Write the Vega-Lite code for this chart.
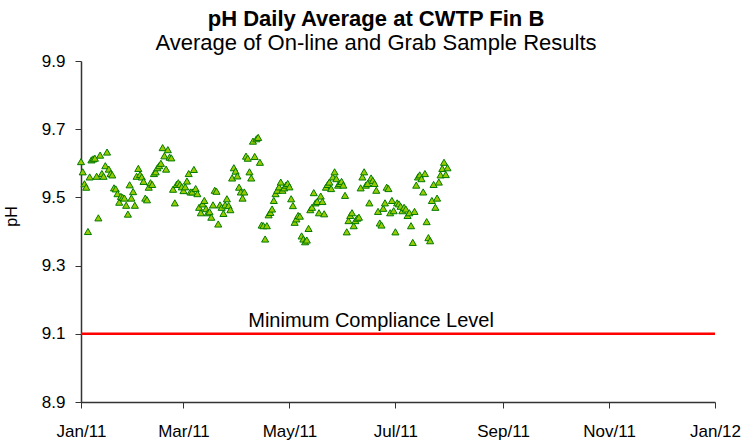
{
  "$schema": "https://vega.github.io/schema/vega-lite/v6.json",
  "autosize": "none",
  "width": 634,
  "height": 341,
  "padding": {"left": 81, "top": 61, "right": 36, "bottom": 38},
  "background": "white",
  "config": {
    "view": {"stroke": null},
    "font": "Liberation Sans",
    "axis": {"labelFont": "Liberation Sans", "titleFont": "Liberation Sans", "labelColor": "#000", "titleColor": "#000", "domainColor": "#333", "tickColor": "#333", "grid": false}
  },
  "title": {
    "text": "pH Daily Average at CWTP Fin B",
    "subtitle": "Average of On-line and Grab Sample Results",
    "anchor": "middle",
    "dx": -22,
    "offset": 0,
    "dy": 3,
    "fontSize": 22,
    "fontWeight": "bold",
    "font": "Liberation Sans",
    "subtitleFont": "Liberation Sans",
    "subtitleFontSize": 22,
    "subtitleColor": "#000",
    "color": "#000",
    "subtitlePadding": 2
  },
  "layer": [
    {
      "data": {"values": [
        {"date":"2011-01-01","pH":9.605},{"date":"2011-01-02","pH":9.575},{"date":"2011-01-03","pH":9.54},{"date":"2011-01-04","pH":9.53},{"date":"2011-01-05","pH":9.40},{"date":"2011-01-06","pH":9.56},{"date":"2011-01-07","pH":9.61},{"date":"2011-01-08","pH":9.613},{"date":"2011-01-09","pH":9.615},{"date":"2011-01-10","pH":9.562},{"date":"2011-01-11","pH":9.44},{"date":"2011-01-12","pH":9.624},{"date":"2011-01-13","pH":9.57},{"date":"2011-01-14","pH":9.562},{"date":"2011-01-15","pH":9.593},{"date":"2011-01-16","pH":9.633},{"date":"2011-01-17","pH":9.583},{"date":"2011-01-18","pH":9.57},{"date":"2011-01-19","pH":9.566},{"date":"2011-01-20","pH":9.528},{"date":"2011-01-21","pH":9.525},{"date":"2011-01-22","pH":9.511},{"date":"2011-01-23","pH":9.486},{"date":"2011-01-24","pH":9.503},{"date":"2011-01-25","pH":9.50},{"date":"2011-01-26","pH":9.498},{"date":"2011-01-27","pH":9.477},{"date":"2011-01-28","pH":9.451},{"date":"2011-01-29","pH":9.537},{"date":"2011-01-30","pH":9.498},{"date":"2011-01-31","pH":9.517},
        {"date":"2011-02-01","pH":9.477},{"date":"2011-02-02","pH":9.562},{"date":"2011-02-03","pH":9.585},{"date":"2011-02-04","pH":9.567},{"date":"2011-02-05","pH":9.56},{"date":"2011-02-06","pH":9.547},{"date":"2011-02-07","pH":9.498},{"date":"2011-02-08","pH":9.493},{"date":"2011-02-09","pH":9.53},{"date":"2011-02-10","pH":9.543},{"date":"2011-02-11","pH":9.538},{"date":"2011-02-12","pH":9.57},{"date":"2011-02-13","pH":9.575},{"date":"2011-02-14","pH":9.587},{"date":"2011-02-15","pH":9.593},{"date":"2011-02-16","pH":9.60},{"date":"2011-02-17","pH":9.646},{"date":"2011-02-18","pH":9.622},{"date":"2011-02-19","pH":9.583},{"date":"2011-02-20","pH":9.64},{"date":"2011-02-21","pH":9.618},{"date":"2011-02-22","pH":9.616},{"date":"2011-02-23","pH":9.524},{"date":"2011-02-24","pH":9.484},{"date":"2011-02-25","pH":9.538},{"date":"2011-02-26","pH":9.543},{"date":"2011-02-27","pH":9.538},{"date":"2011-02-28","pH":9.531},
        {"date":"2011-03-01","pH":9.52},{"date":"2011-03-02","pH":9.531},{"date":"2011-03-03","pH":9.548},{"date":"2011-03-04","pH":9.57},{"date":"2011-03-05","pH":9.516},{"date":"2011-03-06","pH":9.516},{"date":"2011-03-07","pH":9.582},{"date":"2011-03-08","pH":9.526},{"date":"2011-03-09","pH":9.511},{"date":"2011-03-10","pH":9.471},{"date":"2011-03-11","pH":9.455},{"date":"2011-03-12","pH":9.481},{"date":"2011-03-13","pH":9.491},{"date":"2011-03-14","pH":9.467},{"date":"2011-03-15","pH":9.455},{"date":"2011-03-16","pH":9.458},{"date":"2011-03-17","pH":9.442},{"date":"2011-03-18","pH":9.478},{"date":"2011-03-19","pH":9.521},{"date":"2011-03-20","pH":9.518},{"date":"2011-03-21","pH":9.422},{"date":"2011-03-22","pH":9.478},{"date":"2011-03-23","pH":9.471},{"date":"2011-03-24","pH":9.453},{"date":"2011-03-25","pH":9.478},{"date":"2011-03-26","pH":9.496},{"date":"2011-03-27","pH":9.476},{"date":"2011-03-28","pH":9.464},{"date":"2011-03-29","pH":9.557},{"date":"2011-03-30","pH":9.587},{"date":"2011-03-31","pH":9.577},
        {"date":"2011-04-01","pH":9.563},{"date":"2011-04-02","pH":9.53},{"date":"2011-04-03","pH":9.516},{"date":"2011-04-04","pH":9.498},{"date":"2011-04-05","pH":9.516},{"date":"2011-04-06","pH":9.621},{"date":"2011-04-07","pH":9.615},{"date":"2011-04-08","pH":9.575},{"date":"2011-04-09","pH":9.557},{"date":"2011-04-10","pH":9.665},{"date":"2011-04-11","pH":9.62},{"date":"2011-04-12","pH":9.672},{"date":"2011-04-13","pH":9.676},{"date":"2011-04-14","pH":9.603},{"date":"2011-04-15","pH":9.419},{"date":"2011-04-16","pH":9.417},{"date":"2011-04-17","pH":9.378},{"date":"2011-04-18","pH":9.417},{"date":"2011-04-19","pH":9.449},{"date":"2011-04-20","pH":9.456},{"date":"2011-04-21","pH":9.466},{"date":"2011-04-22","pH":9.491},{"date":"2011-04-23","pH":9.511},{"date":"2011-04-24","pH":9.521},{"date":"2011-04-25","pH":9.531},{"date":"2011-04-26","pH":9.545},{"date":"2011-04-27","pH":9.521},{"date":"2011-04-28","pH":9.528},{"date":"2011-04-29","pH":9.536},{"date":"2011-04-30","pH":9.541},
        {"date":"2011-05-01","pH":9.531},{"date":"2011-05-02","pH":9.496},{"date":"2011-05-03","pH":9.476},{"date":"2011-05-04","pH":9.427},{"date":"2011-05-05","pH":9.437},{"date":"2011-05-06","pH":9.447},{"date":"2011-05-07","pH":9.445},{"date":"2011-05-08","pH":9.387},{"date":"2011-05-09","pH":9.378},{"date":"2011-05-10","pH":9.37},{"date":"2011-05-11","pH":9.375},{"date":"2011-05-12","pH":9.409},{"date":"2011-05-13","pH":9.464},{"date":"2011-05-14","pH":9.471},{"date":"2011-05-15","pH":9.514},{"date":"2011-05-16","pH":9.484},{"date":"2011-05-17","pH":9.488},{"date":"2011-05-18","pH":9.455},{"date":"2011-05-19","pH":9.504},{"date":"2011-05-20","pH":9.488},{"date":"2011-05-21","pH":9.452},{"date":"2011-05-22","pH":9.53},{"date":"2011-05-23","pH":9.538},{"date":"2011-05-24","pH":9.545},{"date":"2011-05-25","pH":9.526},{"date":"2011-05-26","pH":9.56},{"date":"2011-05-27","pH":9.575},{"date":"2011-05-28","pH":9.555},{"date":"2011-05-29","pH":9.536},{"date":"2011-05-30","pH":9.541},{"date":"2011-05-31","pH":9.547},
        {"date":"2011-06-01","pH":9.536},{"date":"2011-06-02","pH":9.506},{"date":"2011-06-03","pH":9.399},{"date":"2011-06-04","pH":9.432},{"date":"2011-06-05","pH":9.447},{"date":"2011-06-06","pH":9.455},{"date":"2011-06-07","pH":9.417},{"date":"2011-06-08","pH":9.432},{"date":"2011-06-09","pH":9.439},{"date":"2011-06-10","pH":9.442},{"date":"2011-06-11","pH":9.528},{"date":"2011-06-12","pH":9.56},{"date":"2011-06-13","pH":9.575},{"date":"2011-06-14","pH":9.536},{"date":"2011-06-15","pH":9.541},{"date":"2011-06-16","pH":9.484},{"date":"2011-06-17","pH":9.557},{"date":"2011-06-18","pH":9.55},{"date":"2011-06-19","pH":9.541},{"date":"2011-06-20","pH":9.521},{"date":"2011-06-21","pH":9.459},{"date":"2011-06-22","pH":9.425},{"date":"2011-06-23","pH":9.419},{"date":"2011-06-24","pH":9.468},{"date":"2011-06-25","pH":9.484},{"date":"2011-06-26","pH":9.53},{"date":"2011-06-27","pH":9.526},{"date":"2011-06-28","pH":9.455},{"date":"2011-06-29","pH":9.491},{"date":"2011-06-30","pH":9.461},
        {"date":"2011-07-01","pH":9.399},{"date":"2011-07-02","pH":9.484},{"date":"2011-07-03","pH":9.481},{"date":"2011-07-04","pH":9.474},{"date":"2011-07-05","pH":9.461},{"date":"2011-07-06","pH":9.471},{"date":"2011-07-07","pH":9.466},{"date":"2011-07-08","pH":9.447},{"date":"2011-07-09","pH":9.455},{"date":"2011-07-10","pH":9.417},{"date":"2011-07-11","pH":9.368},{"date":"2011-07-12","pH":9.459},{"date":"2011-07-13","pH":9.536},{"date":"2011-07-14","pH":9.56},{"date":"2011-07-15","pH":9.566},{"date":"2011-07-16","pH":9.555},{"date":"2011-07-17","pH":9.516},{"date":"2011-07-18","pH":9.57},{"date":"2011-07-19","pH":9.429},{"date":"2011-07-20","pH":9.382},{"date":"2011-07-21","pH":9.373},{"date":"2011-07-22","pH":9.491},{"date":"2011-07-23","pH":9.538},{"date":"2011-07-24","pH":9.471},{"date":"2011-07-25","pH":9.498},{"date":"2011-07-26","pH":9.545},{"date":"2011-07-27","pH":9.566},{"date":"2011-07-28","pH":9.585},{"date":"2011-07-29","pH":9.603},{"date":"2011-07-30","pH":9.567},{"date":"2011-07-31","pH":9.587}
      ]},
      "mark": {"type": "point", "shape": "triangle-up", "size": 50, "filled": true, "fill": "#99CC00", "stroke": "#007A00", "strokeWidth": 1, "opacity": 1},
      "encoding": {
        "x": {
          "field": "date", "type": "temporal",
          "scale": {"type": "utc", "domain": [{"year": 2011, "month": 1, "date": 1, "utc": true}, {"year": 2012, "month": 1, "date": 1, "utc": true}]},
          "axis": {
            "title": null,
            "labelExpr": "utcFormat(datum.value, '%b/%y')",
            "values": [
              {"year": 2011, "month": 1, "date": 1, "utc": true},
              {"year": 2011, "month": 3, "date": 1, "utc": true},
              {"year": 2011, "month": 5, "date": 1, "utc": true},
              {"year": 2011, "month": 7, "date": 1, "utc": true},
              {"year": 2011, "month": 9, "date": 1, "utc": true},
              {"year": 2011, "month": 11, "date": 1, "utc": true},
              {"year": 2012, "month": 1, "date": 1, "utc": true}
            ],
            "labelFontSize": 17, "tickSize": 6, "labelPadding": 15, "labelFlush": false, "labelOverlap": false, "domainWidth": 1.5
          }
        },
        "y": {
          "field": "pH", "type": "quantitative",
          "scale": {"domain": [8.9, 9.9], "nice": false, "zero": false},
          "axis": {
            "title": "pH", "titleFontSize": 16, "titleFontWeight": "normal", "titlePadding": 22, "titleY": 155,
            "values": [8.9, 9.1, 9.3, 9.5, 9.7, 9.9], "format": ".1f",
            "labelFontSize": 17, "tickSize": 6, "labelPadding": 10, "domainWidth": 1.5
          }
        }
      }
    },
    {
      "data": {"values": [{"pH": 9.1}]},
      "mark": {"type": "rule", "color": "#FF0000", "strokeWidth": 2.5},
      "encoding": {"y": {"field": "pH", "type": "quantitative"}}
    },
    {
      "data": {"values": [{"date": "2011-06-17", "pH": 9.1, "label": "Minimum Compliance Level"}]},
      "mark": {"type": "text", "fontSize": 20, "font": "Liberation Sans", "color": "#000", "baseline": "bottom", "dy": -3},
      "encoding": {
        "x": {"field": "date", "type": "temporal"},
        "y": {"field": "pH", "type": "quantitative"},
        "text": {"field": "label"}
      }
    }
  ]
}
